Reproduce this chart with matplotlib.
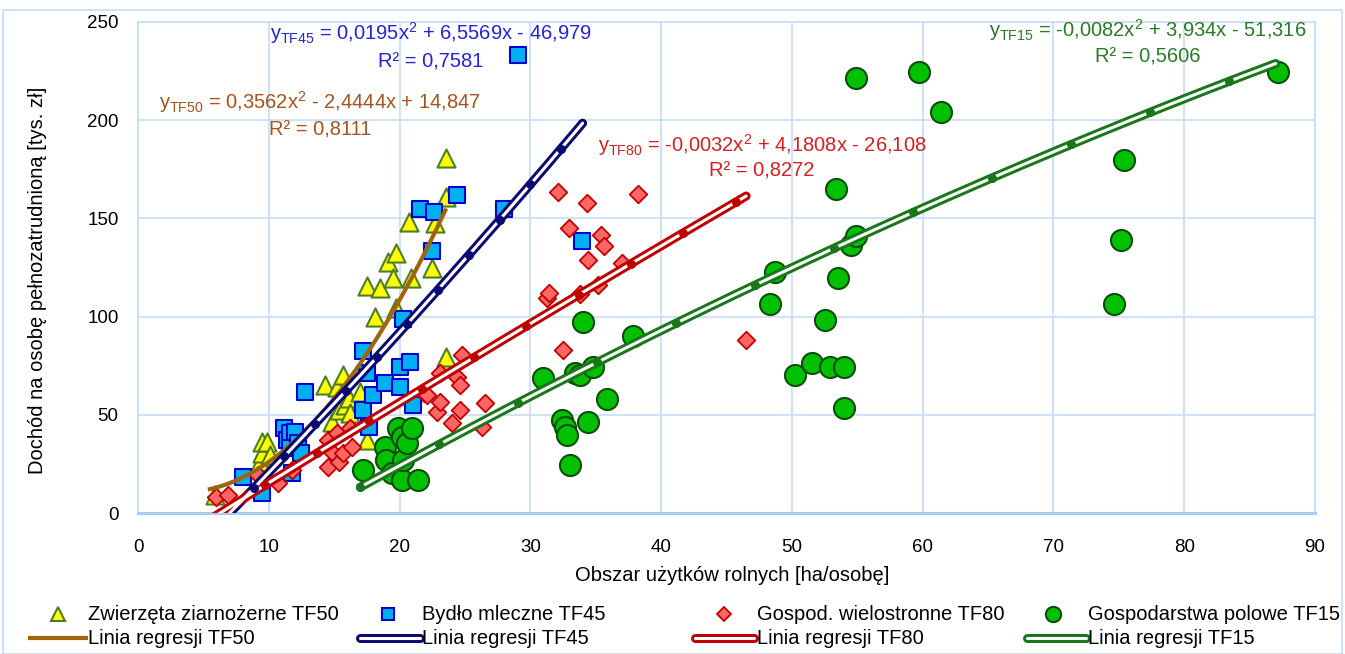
import numpy as np
import matplotlib
matplotlib.use("Agg")
from matplotlib import pyplot as plt
from matplotlib.lines import Line2D
from matplotlib.patches import Rectangle

plt.rcParams['font.family'] = ['Liberation Sans', 'DejaVu Sans']
plt.rcParams['mathtext.default'] = 'regular'

# --- scatter data (x: ha/osobę, y: tys. zł) ---
tf50_x = [5.9, 9.3, 9.5, 9.5, 9.9, 10.1, 14.3, 14.8, 15.2, 15.4, 15.8, 15.7, 16.1, 16.2, 17.0,
          17.5, 17.5, 18.1, 18.5, 19.1, 19.5, 19.7, 19.7, 20.7, 20.9, 22.5, 22.7, 23.55, 23.55, 23.55]
tf50_y = [9.2, 26, 30.5, 36.2, 36.2, 29.5, 65.2, 46.3, 64.2, 52.4, 55, 70.3, 58.6, 50.9, 61.6,
          37.2, 115.6, 99.8, 114.6, 127.8, 119.7, 104.4, 132.4, 148, 119.7, 124.7, 147.7, 79.4, 160.9, 180.8]

tf45_x = [8.0, 9.5, 11.2, 11.4, 11.6, 11.6, 11.8, 12.0, 12.2, 12.5, 12.8, 17.2, 17.2, 17.5, 17.7,
          18.0, 18.9, 20.0, 20.0, 20.3, 20.8, 21.0, 21.6, 22.5, 22.6, 24.4, 28.0, 29.06, 33.95]
tf45_y = [18.3, 10.2, 43.3, 37.2, 40.7, 33.1, 20.4, 41.2, 35.6, 30.5, 61.6, 82.5, 52.4, 71.3, 43.8,
          60.1, 66.2, 74.3, 64.2, 98.8, 76.9, 55.0, 154.8, 133.4, 153.3, 161.9, 154.8, 233.2, 138.5]

tf80_x = [6.0, 6.9, 9.2, 10.7, 11.8, 14.5, 14.5, 14.8, 15.2, 15.4, 15.7, 16.2, 16.4, 21.9, 22.1,
          22.9, 23.1, 23.1, 24.0, 24.4, 24.6, 24.6, 24.8, 26.3, 26.5, 31.3, 31.4, 32.1, 32.5, 32.96,
          33.8, 34.3, 34.4, 35.2, 35.4, 35.6, 37.0, 38.2, 46.5]
tf80_y = [8.1, 9.2, 19.4, 15.3, 22, 23.4, 37.2, 31, 40.7, 26, 30.5, 43.3, 33.6, 61.1, 60,
          51.4, 71.2, 56.5, 45.8, 69, 65.2, 52.4, 80.4, 43.8, 56, 109.5, 112, 163.4, 83, 145.1,
          111.5, 157.8, 128.8, 116, 141.5, 136, 127.3, 162.4, 88]

tf15_x = [17.2, 18.9, 19.0, 19.4, 19.9, 20.2, 20.2, 20.3, 20.6, 20.95, 21.4, 31.0, 32.4, 32.65,
          32.8, 33.0, 33.4, 33.8, 34.0, 34.4, 34.8, 35.9, 37.85, 48.3, 48.7, 50.2, 51.5, 52.5, 52.9,
          53.4, 53.5, 54.0, 54.0, 54.5, 54.9, 54.9, 59.7, 61.4, 74.6, 75.2, 75.4, 87.2]
tf15_y = [21.9, 33.6, 27, 20.4, 43.3, 38.7, 16.8, 27, 35.6, 43.3, 16.8, 68.7, 47.4, 43.8,
          39.7, 24.4, 71.2, 70.3, 97.3, 46.3, 74.3, 58, 90.1, 106.4, 122.7, 70.3, 76.4, 98.3, 74.3,
          165, 119.7, 74.3, 53.5, 136.5, 141, 221.5, 224.5, 204.2, 106.4, 139, 179.7, 224.5]

# --- regression coefficients (a, b, c) and x range ---
tf50_coef = [0.3562, -2.4444, 14.847]
tf45_coef = [0.0195, 6.5569, -46.979]
tf80_coef = [-0.0032, 4.1808, -26.108]
tf15_coef = [-0.0082, 3.934, -51.316]
tf50_rng = [5.5, 23.5]
tf45_rng = [6.5, 34.0]
tf80_rng = [5.7, 46.5]
tf15_rng = [17.0, 87.0]

eq_tf45 = ['$y_{TF45}$ = 0,0195x$^{2}$ + 6,5569x - 46,979', 'R² = 0,7581']
eq_tf50 = ['$y_{TF50}$ = 0,3562x$^{2}$ - 2,4444x + 14,847', 'R² = 0,8111']
eq_tf80 = ['$y_{TF80}$ = -0,0032x$^{2}$ + 4,1808x - 26,108', 'R² = 0,8272']
eq_tf15 = ['$y_{TF15}$ = -0,0082x$^{2}$ + 3,934x - 51,316', 'R² = 0,5606']

W, H = 1345, 654
FS = 14.5
grid_c = '#c8ddf5'

fig = plt.figure(figsize=(W / 100, H / 100), dpi=100)
fig.add_artist(Rectangle((3 / W, 0), (W - 6) / W, 1 - 10 / H, transform=fig.transFigure,
                         fill=False, edgecolor='#c8ddf5', lw=1.2))
ax = fig.add_axes([138 / W, 1 - 513 / H, (1315 - 138) / W, (513 - 22) / H])

ax.scatter(tf50_x, tf50_y, marker='^', s=170, c='#ffff00', edgecolors='#4e7d2a', linewidths=1.5, zorder=3)
ax.scatter(tf45_x, tf45_y, marker='s', s=130, c='#00b0f0', edgecolors='#0000d0', linewidths=1.5, zorder=3)
ax.scatter(tf80_x, tf80_y, marker='D', s=80, c='#ff6666', edgecolors='#c00000', linewidths=1.3, zorder=3)
ax.scatter(tf15_x, tf15_y, marker='o', s=230, c='#00c000', edgecolors='#0b4d0b', linewidths=1.5, zorder=3)


def quad(coef, x):
    return coef[0] * x ** 2 + coef[1] * x + coef[2]


def double_line(coef, rng, color, step):
    xs = np.linspace(rng[0], rng[1], 200)
    ax.plot(xs, quad(coef, xs), color=color, lw=6.5, solid_capstyle='round', zorder=5)
    ax.plot(xs, quad(coef, xs), color='white', lw=2.2, solid_capstyle='round', zorder=5.1)
    xm = np.arange(rng[0], rng[1], step)
    ax.plot(xm, quad(coef, xm), 'o', color=color, ms=5.5, zorder=5.2)


xs50 = np.linspace(tf50_rng[0], tf50_rng[1], 200)
ax.plot(xs50, quad(tf50_coef, xs50), color='#a0650a', lw=3, zorder=5)
double_line(tf45_coef, tf45_rng, '#0a0a70', 2.35)
double_line(tf80_coef, tf80_rng, '#c00000', 4.0)
double_line(tf15_coef, tf15_rng, '#1a761a', 6.04)

ax.set_xlim(0, 90)
ax.set_ylim(0, 250)
ax.set_xticks(range(0, 91, 10))
ax.set_yticks(range(0, 251, 50))
ax.grid(True, color=grid_c, lw=1.2)
ax.set_axisbelow(True)
for s in ['left', 'right', 'top']:
    ax.spines[s].set_color(grid_c)
    ax.spines[s].set_linewidth(1.2)
ax.spines['bottom'].set_color('#a8cbef')
ax.spines['bottom'].set_linewidth(2.2)
ax.tick_params(length=0, labelsize=13.5)
ax.tick_params(axis='x', pad=19)
ax.tick_params(axis='y', pad=14)
ax.set_xlabel('Obszar użytków rolnych [ha/osobę]', fontsize=FS)
ax.set_ylabel('Dochód na osobę pełnozatrudnioną [tys. zł]', fontsize=FS)
ax.xaxis.set_label_coords((732 - 138) / 1177, (513 - 566) / 491)
ax.yaxis.set_label_coords((47 - 138) / 1177, (513 - 280) / 491)


def equation(lines, cx, y1, y2, color):
    fig.text(cx / W, 1 - y1 / H, lines[0], ha='center', va='center', fontsize=FS, color=color)
    fig.text(cx / W, 1 - y2 / H, lines[1], ha='center', va='center', fontsize=FS, color=color)


equation(eq_tf45, 431, 33, 62, '#2222dd')
equation(eq_tf50, 320, 102, 130, '#a5531f')
equation(eq_tf80, 762, 145, 171, '#d42020')
equation(eq_tf15, 1148, 30, 57, '#2a7a2a')

# --- legend, drawn by hand in figure pixels ---
row1, row2 = 614, 638
legend_cols = [
    ('Zwierzęta ziarnożerne TF50', 'Linia regresji TF50', 58, 30, 86, 88,
     dict(marker='^', ms=10, mfc='#ffff00', mec='#4e7d2a', mew=1.5), '#a0650a', False),
    ('Bydło mleczne TF45', 'Linia regresji TF45', 388, 360, 420, 422,
     dict(marker='s', ms=9, mfc='#00b0f0', mec='#0000d0', mew=1.5), '#0a0a70', True),
    ('Gospod. wielostronne TF80', 'Linia regresji TF80', 724, 695, 754, 757,
     dict(marker='D', ms=7.5, mfc='#ff6666', mec='#c00000', mew=1.3), '#c00000', True),
    ('Gospodarstwa polowe TF15', 'Linia regresji TF15', 1053, 1027, 1086, 1088,
     dict(marker='o', ms=11, mfc='#00c000', mec='#0b4d0b', mew=1.5), '#1a761a', True),
]
for lab1, lab2, mx, lx0, lx1, tx, mstyle, lc, dbl in legend_cols:
    fig.add_artist(Line2D([mx / W], [1 - row1 / H], transform=fig.transFigure, ls='none', **mstyle))
    fig.text(tx / W, 1 - row1 / H, lab1, ha='left', va='center', fontsize=FS)
    if dbl:
        fig.add_artist(Line2D([lx0 / W, lx1 / W], [1 - row2 / H] * 2, transform=fig.transFigure,
                              color=lc, lw=6.5, solid_capstyle='round'))
        fig.add_artist(Line2D([lx0 / W, lx1 / W], [1 - row2 / H] * 2, transform=fig.transFigure,
                              color='white', lw=2.2, solid_capstyle='round'))
    else:
        fig.add_artist(Line2D([lx0 / W, lx1 / W], [1 - row2 / H] * 2, transform=fig.transFigure,
                              color=lc, lw=3))
    fig.text(tx / W, 1 - row2 / H, lab2, ha='left', va='center', fontsize=FS)

fig.savefig('out.png', dpi=100)
